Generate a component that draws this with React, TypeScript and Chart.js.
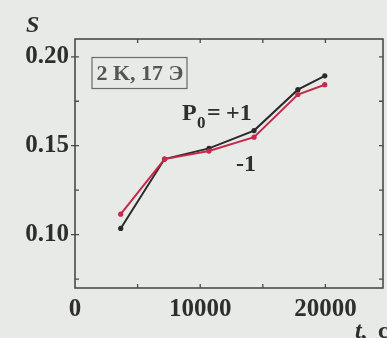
import { useEffect, useRef } from "react";
import { Chart, registerables } from "chart.js";

Chart.register(...registerables);

// Time, s
const times = [3650, 7150, 10700, 14300, 17800, 19950];
// Degree of order S for initial polarization P0 = +1 and P0 = -1
const sPlusOne = [0.1035, 0.1425, 0.1485, 0.1585, 0.1815, 0.1893];
const sMinusOne = [0.1115, 0.1425, 0.147, 0.1548, 0.1788, 0.1843];

const xTickLabels = [0, 10000, 20000];
const yTickLabels = [0.1, 0.15, 0.2];
const xTickMarks = [5000, 10000, 15000, 20000];
const yTickMarks = [0.075, 0.1, 0.125, 0.15, 0.175, 0.2];

const X_MIN = 0;
const X_MAX = 24600;
const Y_MIN = 0.07;
const Y_MAX = 0.21;

const SERIF = '"Liberation Serif", "Times New Roman", Times, serif';
const BG = "#e8eae7";
const INK = "#2e2e2e";
const FRAME = "#4a4a4a";

const framePlugin = {
  id: "frameAndNotes",
  beforeDraw(chart: any) {
    const { ctx, width, height } = chart;
    ctx.save();
    ctx.fillStyle = BG;
    ctx.fillRect(0, 0, width, height);
    ctx.restore();
  },
  afterDraw(chart: any) {
    const { ctx, chartArea: a, scales } = chart;
    const xs = scales.x;
    const ys = scales.y;
    ctx.save();
    ctx.strokeStyle = FRAME;
    ctx.lineWidth = 1.6;
    ctx.strokeRect(a.left, a.top, a.right - a.left, a.bottom - a.top);

    // inward tick marks on all four sides
    ctx.lineWidth = 1.3;
    ctx.beginPath();
    for (const v of xTickMarks) {
      const px = xs.getPixelForValue(v);
      ctx.moveTo(px, a.bottom);
      ctx.lineTo(px, a.bottom - 4);
      ctx.moveTo(px, a.top);
      ctx.lineTo(px, a.top + 4);
    }
    for (const v of yTickMarks) {
      const py = ys.getPixelForValue(v);
      ctx.moveTo(a.left, py);
      ctx.lineTo(a.left + 4, py);
      ctx.moveTo(a.right, py);
      ctx.lineTo(a.right - 4, py);
    }
    // short outward marks at labelled y values
    for (const v of yTickLabels) {
      const py = ys.getPixelForValue(v);
      ctx.moveTo(a.left - 4, py);
      ctx.lineTo(a.left, py);
    }
    ctx.stroke();

    // axis titles
    ctx.fillStyle = INK;
    ctx.textBaseline = "alphabetic";
    ctx.textAlign = "left";
    ctx.font = `italic bold 24px ${SERIF}`;
    ctx.fillText("S", 26, 32);
    ctx.fillText("t,", 355, 338);
    ctx.font = `bold 24px ${SERIF}`;
    ctx.fillText("c", 378, 338);

    // sample box
    ctx.strokeStyle = "#6a6a6a";
    ctx.lineWidth = 1.2;
    ctx.strokeRect(92, 57.5, 95, 31);
    ctx.fillStyle = "#555555";
    ctx.font = `bold 22px ${SERIF}`;
    ctx.textAlign = "center";
    ctx.textBaseline = "middle";
    ctx.fillText("2 K, 17 Э", 140, 74);

    // curve labels
    ctx.fillStyle = INK;
    ctx.textAlign = "left";
    ctx.textBaseline = "alphabetic";
    ctx.font = `bold 24px ${SERIF}`;
    ctx.fillText("P", 182, 120);
    ctx.font = `bold 17px ${SERIF}`;
    ctx.fillText("0", 197, 128);
    ctx.font = `bold 24px ${SERIF}`;
    ctx.fillText("=", 207, 120);
    ctx.fillText("+1", 226, 120);
    ctx.fillText("-1", 236, 171);
    ctx.restore();
  },
};

export default function App() {
  const ref = useRef<HTMLCanvasElement>(null);

  useEffect(() => {
    const canvas = ref.current;
    if (!canvas) return;
    const pts = (ys: number[]) => times.map((t, i) => ({ x: t, y: ys[i] }));
    const tickFont = { family: SERIF, size: 25, weight: "bold" as const };

    const chart = new Chart(canvas, {
      type: "scatter",
      data: {
        datasets: [
          {
            label: "P0 = -1",
            data: pts(sMinusOne),
            showLine: true,
            borderColor: "#c42a4c",
            backgroundColor: "#c42a4c",
            borderWidth: 2,
            pointRadius: 2.6,
            pointBorderWidth: 0,
          },
          {
            label: "P0 = +1",
            data: pts(sPlusOne),
            showLine: true,
            borderColor: "#2a2a2a",
            backgroundColor: "#2a2a2a",
            borderWidth: 2,
            pointRadius: 2.6,
            pointBorderWidth: 0,
          },
        ],
      },
      options: {
        responsive: false,
        animation: false,
        devicePixelRatio: 1,
        layout: { padding: { top: 39, right: 3, left: 0, bottom: 0 } },
        plugins: {
          legend: { display: false },
          tooltip: { enabled: false },
        },
        scales: {
          x: {
            type: "linear",
            min: X_MIN,
            max: X_MAX,
            afterBuildTicks: (s: any) => {
              s.ticks = xTickLabels.map((v) => ({ value: v }));
            },
            afterFit: (s: any) => {
              s.height = 50;
            },
            grid: { display: false, drawTicks: false },
            border: { display: false },
            ticks: {
              font: tickFont,
              color: INK,
              padding: 7,
              maxRotation: 0,
              autoSkip: false,
              callback: (v: any) => String(v),
            },
          },
          y: {
            type: "linear",
            min: Y_MIN,
            max: Y_MAX,
            afterBuildTicks: (s: any) => {
              s.ticks = yTickLabels.map((v) => ({ value: v }));
            },
            afterFit: (s: any) => {
              s.width = 75;
            },
            grid: { display: false, drawTicks: false },
            border: { display: false },
            ticks: {
              font: tickFont,
              color: INK,
              padding: 6,
              autoSkip: false,
              callback: (v: any) => Number(v).toFixed(2),
            },
          },
        },
      },
      plugins: [framePlugin],
    });
    return () => chart.destroy();
  }, []);

  return (
    <canvas
      ref={ref}
      width={387}
      height={338}
      style={{ position: "absolute", left: 0, top: 0, width: 387, height: 338 }}
    />
  );
}
